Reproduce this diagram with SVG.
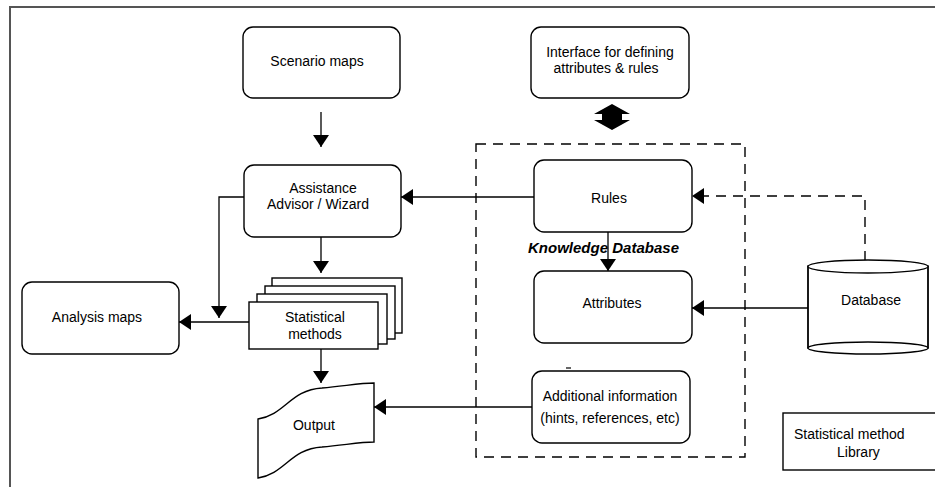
<svg xmlns="http://www.w3.org/2000/svg" width="935" height="487" viewBox="0 0 935 487">
<defs>
<style>
.box{fill:#fff;stroke:#000;stroke-width:1.4}
.ln{fill:none;stroke:#000;stroke-width:1.3}
.dash{fill:none;stroke:#000;stroke-width:1.4;stroke-dasharray:10,7}
text{font-family:"Liberation Sans",Arial,sans-serif;font-size:14px;fill:#000}
.c{text-anchor:middle}
.kd{font-weight:bold;font-style:italic}
</style>
<marker id="ah" markerUnits="userSpaceOnUse" markerWidth="14" markerHeight="18" refX="12" refY="8" orient="auto">
<path d="M0,0 L12,8 L0,16 Z" fill="#000"/>
</marker>
</defs>
<rect width="935" height="487" fill="#fff"/>
<path d="M10,487 V7 H935" fill="none" stroke="#555" stroke-width="2"/>

<g id="connectors">
<path class="ln" d="M321,112 V147" marker-end="url(#ah)"/>
<path class="ln" d="M534,197 H401" marker-end="url(#ah)"/>
<path class="ln" d="M244,197 H219 V318" marker-end="url(#ah)"/>
<path class="ln" d="M249,322 H179" marker-end="url(#ah)"/>
<path class="ln" d="M321,237 V273" marker-end="url(#ah)"/>
<path class="ln" d="M321,349 V383" marker-end="url(#ah)"/>
<path class="ln" d="M608,232 V271" marker-end="url(#ah)"/>
<path class="ln" d="M532,407 H374" marker-end="url(#ah)"/>
<path class="ln" d="M808,308 H692" marker-end="url(#ah)"/>
<path class="dash" d="M865,261 V196 H692" marker-end="url(#ah)"/>
<polygon points="612,104 630,114 622,114 622,120 630,120 612,130 594,120 602,120 602,114 594,114" fill="#000"/>
</g>

<g id="knowledge-database">
<rect class="dash" x="476" y="144" width="269" height="313"/>
<text class="kd" x="528" y="253" textLength="151" lengthAdjust="spacingAndGlyphs">Knowledge Database</text>
<line x1="566" y1="368" x2="571" y2="368" stroke="#333" stroke-width="1.5"/>
</g>

<g id="scenario-maps">
<rect class="box" x="243" y="27" width="157" height="71" rx="10"/>
<text class="c" x="317" y="66">Scenario maps</text>
</g>

<g id="interface">
<rect class="box" x="531" y="27" width="158" height="71" rx="10"/>
<text class="c" x="610" y="57">Interface for defining</text>
<text class="c" x="606" y="73">attributes &amp; rules</text>
</g>

<g id="assistance">
<rect class="box" x="244" y="165" width="157" height="72" rx="10"/>
<text class="c" x="323" y="193">Assistance</text>
<text class="c" x="318" y="209">Advisor / Wizard</text>
</g>

<g id="rules">
<rect class="box" x="534" y="160" width="158" height="72" rx="10"/>
<text class="c" x="609" y="203">Rules</text>
</g>

<g id="attributes">
<rect class="box" x="534" y="271" width="158" height="72" rx="10"/>
<text class="c" x="612" y="308">Attributes</text>
</g>

<g id="additional-information">
<rect class="box" x="532" y="371" width="158" height="72" rx="10"/>
<text class="c" x="610" y="401">Additional information</text>
<text class="c" x="610" y="423">(hints, references, etc)</text>
</g>

<g id="analysis-maps">
<rect class="box" x="22" y="282" width="157" height="72" rx="10"/>
<text class="c" x="97" y="322">Analysis maps</text>
</g>

<g id="statistical-methods">
<rect class="box" x="272" y="278" width="130" height="55"/>
<rect class="box" x="265" y="286" width="130" height="53"/>
<rect class="box" x="257" y="294" width="130" height="50"/>
<rect class="box" x="249" y="302" width="129" height="47"/>
<text class="c" x="315" y="322">Statistical</text>
<text class="c" x="315" y="339">methods</text>
</g>

<g id="output">
<path class="box" d="M258,419 C285,415 290,390 322,388 C345,386 360,383 374,383 V442 C360,442 345,445 322,447 C290,449 285,474 258,478 Z"/>
<text class="c" x="314" y="430">Output</text>
</g>

<g id="database">
<path class="box" d="M808,266 V348 H928 V266 Z" stroke="none"/>
<line class="ln" x1="808" y1="266" x2="808" y2="348"/>
<line class="ln" x1="928" y1="266" x2="928" y2="348"/>
<ellipse class="box" cx="868" cy="266.5" rx="60" ry="6.5"/>
<ellipse class="box" cx="868" cy="348" rx="60" ry="6"/>
<text class="c" x="871" y="305">Database</text>
</g>

<g id="library">
<rect class="box" x="783" y="413" width="160" height="57"/>
<text x="794" y="439">Statistical method</text>
<text x="837" y="457">Library</text>
</g>
</svg>
